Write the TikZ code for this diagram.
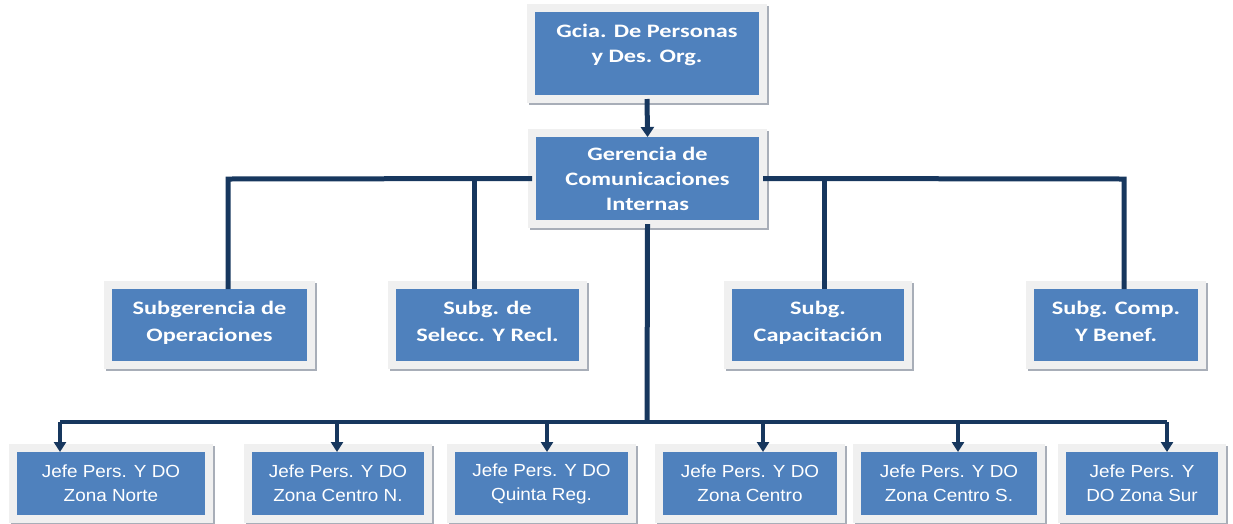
\documentclass[tikz,border=0pt]{standalone}
\usepackage{fontspec}
\usetikzlibrary{arrows.meta,calc}
\newfontfamily\topfont[FakeStretch=1.28]{Carlito}
\newfontfamily\botfont[FakeStretch=1.08]{Liberation Sans}
\definecolor{boxblue}{HTML}{4F81BD}
\definecolor{framegray}{HTML}{F0F0F0}
\definecolor{shadowgray}{HTML}{A8AEB8}
\definecolor{linecol}{HTML}{17375E}
\tikzset{
  box/.style={fill=boxblue, draw=framegray, line width=8pt, inner sep=0pt, outer sep=0pt,
    align=center, text=white,
    preaction={draw=shadowgray, line width=8pt, transform canvas={shift={(2pt,-2pt)}}}},
  topbox/.style={box, font=\topfont\bfseries\fontsize{19}{25}\selectfont},
  botbox/.style={box, font=\botfont\fontsize{17.5}{24}\selectfont, minimum height=71pt},
  subbox/.style={box, font=\topfont\bfseries\fontsize{19}{27}\selectfont, minimum height=80pt},
  conn/.style={draw=linecol, line width=5pt, line join=miter},
  arr/.style={conn, -{Triangle[width=13pt,length=10pt]}, shorten >=-4pt},
  arrb/.style={draw=linecol, line width=4pt, -{Triangle[width=12pt,length=10pt]}, shorten >=-4pt},
}
\begin{document}
\begin{tikzpicture}[x=1pt,y=-1pt]
\useasboundingbox (0,0) rectangle (1233,523);
% top boxes
\node[topbox, minimum width=232pt, minimum height=91pt] (g1) at (647,53.5) {Gcia. De Personas\\y Des. Org.\\[-5pt]\mbox{}};
\node[topbox, minimum width=231pt, minimum height=91pt] (g2) at (647.5,178.5) {Gerencia de\\Comunicaciones\\Internas};
% subgerencias
\node[subbox, minimum width=203pt] (s1) at (209.5,325) {Subgerencia de\\Operaciones\\[-20pt]\mbox{}};
\node[subbox, minimum width=191pt] (s2) at (487.5,325) {Subg. de\\Selecc. Y Recl.\\[-20pt]\mbox{}};
\node[subbox, minimum width=180pt] (s3) at (818,325) {Subg.\\Capacitación\\[-20pt]\mbox{}};
\node[subbox, minimum width=172pt] (s4) at (1116,325) {Subg. Comp.\\Y Benef.\\[-20pt]\mbox{}};
% jefes
\node[botbox, minimum width=196pt] (j1) at (111,483.5) {Jefe Pers. Y DO\\Zona Norte};
\node[botbox, minimum width=180pt] (j2) at (338,483.5) {Jefe Pers. Y DO\\Zona Centro N.};
\node[botbox, minimum width=181pt] (j3) at (541.5,483.5) {Jefe Pers. Y DO\\Quinta Reg.};
\node[botbox, minimum width=182pt] (j4) at (750,483.5) {Jefe Pers. Y DO\\Zona Centro};
\node[botbox, minimum width=184pt] (j5) at (949,483.5) {Jefe Pers. Y DO\\Zona Centro S.};
\node[botbox, minimum width=160pt] (j6) at (1142,483.5) {Jefe Pers. Y\\DO Zona Sur};
% branch points
\coordinate (bl1) at (228,179);
\coordinate (bl2) at (474,179);
\coordinate (br1) at (824,179);
\coordinate (br2) at (1124,179);
\coordinate (hb) at (647,422);
\coordinate (a1) at (60,422);
\coordinate (a2) at (337,422);
\coordinate (a3) at (547,422);
\coordinate (a4) at (763,422);
\coordinate (a5) at (958,422);
\coordinate (a6) at (1167,422);
% connectors
\draw[arr] (g1.south) -- (g2.north);
\draw[conn, shorten >=-4pt] (g2.west) -- (bl1) -- (bl1 |- s1.north);
\draw[conn, shorten >=-4pt] (bl2) -- (bl2 |- s2.north);
\draw[conn, shorten >=-4pt] (g2.east) -- (br2) -- (br2 |- s4.north);
\draw[conn, shorten >=-4pt] (br1) -- (br1 |- s3.north);
\draw[conn] (g2.south) -- (hb);
\draw[draw=linecol, line width=4pt] (a1) -- (a6);
\draw[arrb] (a1) -- (a1 |- j1.north);
\draw[arrb] (a2) -- (a2 |- j2.north);
\draw[arrb] (a3) -- (a3 |- j3.north);
\draw[arrb] (a4) -- (a4 |- j4.north);
\draw[arrb] (a5) -- (a5 |- j5.north);
\draw[arrb] (a6) -- (a6 |- j6.north);
\end{tikzpicture}
\end{document}
